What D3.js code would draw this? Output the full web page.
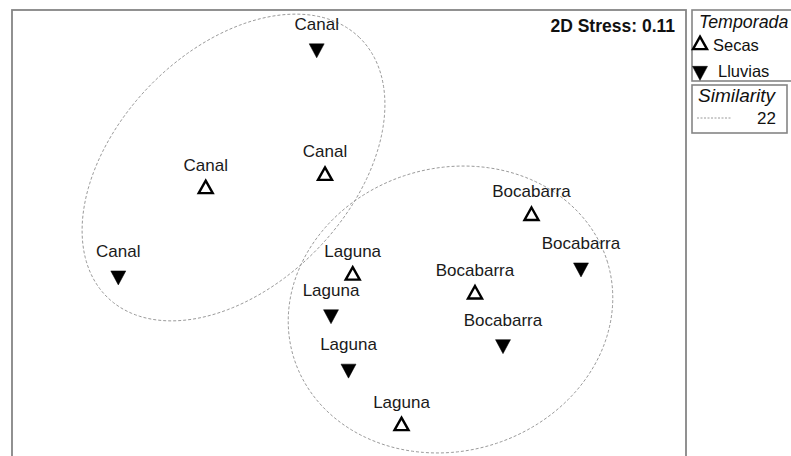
<!DOCTYPE html>
<html>
<head>
<meta charset="utf-8">
<script src="https://cdn.jsdelivr.net/npm/d3@7"></script>
<style>
  html, body { margin: 0; padding: 0; background: #fff; }
  svg { display: block; font-family: Arial, "Liberation Sans", sans-serif; }
</style>
</head>
<body>
<svg id="chart" width="791" height="456"></svg>
<script>
// ---- data (NMDS coordinates) ----
const siteLabels = ["Canal","Canal","Canal","Canal","Laguna","Laguna","Laguna","Laguna","Bocabarra","Bocabarra","Bocabarra","Bocabarra"];
const seasons    = ["Lluvias","Secas","Secas","Lluvias","Secas","Lluvias","Lluvias","Secas","Secas","Lluvias","Secas","Lluvias"];
const mds1 = [-0.323, -1.433, -0.24, -2.307, 0.037, -0.18, -0.005, 0.525, 1.825, 2.32, 1.26, 1.54];
const mds2 = [1.915, 0.51, 0.643, -0.356, -0.355, -0.744, -1.288, -1.86, 0.242, -0.276, -0.543, -1.043];

// similarity 22% cluster outlines (approximated as ellipses)
const clusterCx = [-1.155, 1.015];
const clusterCy = [0.725, -0.695];
const clusterA = [1.81, 1.64];
const clusterB = [1.17, 1.415];
const clusterAngle = [45.9, 16.6];

const legendSeasons = ["Secas", "Lluvias"];
const similarityLevels = ["22"];
const stressText = "2D Stress: 0.11";

// ---- layout ----
const svg = d3.select("#chart");
const frame = { left: 12, top: 10, right: 686, bottom: 500 };
const x = d3.scaleLinear().domain([-3.37, 3.37]).range([frame.left, frame.right]);
const y = d3.scaleLinear().domain([2.3, -2.6]).range([frame.top, frame.bottom]);

svg.append("defs").append("clipPath").attr("id", "plotclip")
  .append("rect").attr("x", frame.left).attr("y", frame.top)
  .attr("width", frame.right - frame.left).attr("height", frame.bottom - frame.top);

svg.append("rect")
  .attr("x", frame.left).attr("y", frame.top)
  .attr("width", frame.right - frame.left).attr("height", frame.bottom - frame.top)
  .attr("fill", "#fff").attr("stroke", "#858585").attr("stroke-width", 1.8);

const plot = svg.append("g").attr("clip-path", "url(#plotclip)");

// cluster ellipses
const line = d3.line().x(d => x(d[0])).y(d => y(d[1])).curve(d3.curveLinearClosed);
clusterCx.forEach((cx, i) => {
  const phi = clusterAngle[i] * Math.PI / 180;
  const pts = d3.range(0, 360, 2).map(deg => {
    const t = deg * Math.PI / 180;
    const ex = clusterA[i] * Math.cos(t), ey = clusterB[i] * Math.sin(t);
    return [cx + ex * Math.cos(phi) - ey * Math.sin(phi),
            clusterCy[i] + ex * Math.sin(phi) + ey * Math.cos(phi)];
  });
  plot.append("path").attr("d", line(pts))
    .attr("fill", "none").attr("stroke", "#9a9a9a")
    .attr("stroke-width", 1).attr("stroke-dasharray", "3,2");
});

// triangle paths (centroid at origin)
function triPath(up, w, h) {
  if (up) return `M0,${-h*2/3}L${w/2},${h/3}L${-w/2},${h/3}Z`;
  return `M0,${h*2/3}L${w/2},${-h/3}L${-w/2},${-h/3}Z`;
}

const pts = siteLabels.map((s, i) => ({ label: s, season: seasons[i], px: x(mds1[i]), py: y(mds2[i]) }));

const g = plot.selectAll("g.pt").data(pts).enter().append("g").attr("class", "pt")
  .attr("transform", d => `translate(${d.px},${d.py})`);

g.append("path")
  .attr("d", d => d.season === "Secas" ? triPath(true, 14, 12.5) : triPath(false, 15, 14))
  .attr("fill", d => d.season === "Secas" ? "none" : "#000")
  .attr("stroke", "#000")
  .attr("stroke-width", d => d.season === "Secas" ? 2.4 : 0.5)
  .attr("stroke-linejoin", "miter");

g.append("text")
  .attr("x", 0).attr("y", -18.5)
  .attr("text-anchor", "middle")
  .attr("font-size", 17)
  .attr("fill", "#1a1a1a")
  .text(d => d.label);

// stress
svg.append("text")
  .attr("x", 675).attr("y", 31.5)
  .attr("text-anchor", "end")
  .attr("font-size", 17.5).attr("font-weight", "bold")
  .attr("fill", "#111")
  .text(stressText);

// legend 1
svg.append("rect").attr("x", 692).attr("y", 10).attr("width", 110).attr("height", 71)
  .attr("fill", "#fff").attr("stroke", "#858585").attr("stroke-width", 1.6);
svg.append("text").attr("x", 699).attr("y", 28).attr("font-size", 17.8)
  .attr("font-style", "italic").attr("fill", "#111").text("Temporada");

const legY = [45, 71];
const legTextX = [713, 718];
legendSeasons.forEach((s, i) => {
  svg.append("path")
    .attr("transform", `translate(700,${legY[i]})`)
    .attr("d", s === "Secas" ? triPath(true, 14, 12.5) : triPath(false, 15, 14))
    .attr("fill", s === "Secas" ? "none" : "#000")
    .attr("stroke", "#000").attr("stroke-width", s === "Secas" ? 2.4 : 0.5);
  svg.append("text").attr("x", legTextX[i]).attr("y", legY[i] + 6)
    .attr("font-size", 16.5).attr("fill", "#111").text(s);
});

// legend 2
svg.append("rect").attr("x", 692).attr("y", 85).attr("width", 95).attr("height", 48)
  .attr("fill", "#fff").attr("stroke", "#858585").attr("stroke-width", 1.6);
svg.append("text").attr("x", 698).attr("y", 102).attr("font-size", 19)
  .attr("font-style", "italic").attr("fill", "#111").text("Similarity");
similarityLevels.forEach((lv, i) => {
  svg.append("line").attr("x1", 697).attr("x2", 731).attr("y1", 118 + i * 20).attr("y2", 118 + i * 20)
    .attr("stroke", "#9a9a9a").attr("stroke-width", 1).attr("stroke-dasharray", "2,1.5");
  svg.append("text").attr("x", 776).attr("y", 123.5 + i * 20).attr("text-anchor", "end")
    .attr("font-size", 17).attr("fill", "#111").text(lv);
});
</script>
</body>
</html>
